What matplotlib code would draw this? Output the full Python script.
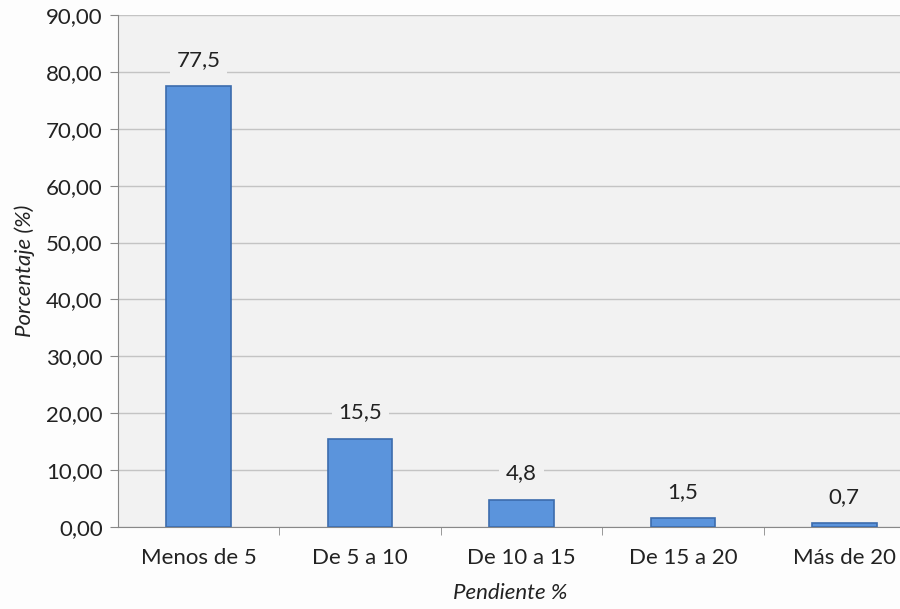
import matplotlib
matplotlib.use("Agg")
import matplotlib.pyplot as plt
from matplotlib.ticker import FuncFormatter

categories = ["Menos de 5", "De 5 a 10", "De 10 a 15", "De 15 a 20", "Más de 20"]
values = [77.5, 15.5, 4.8, 1.5, 0.7]
value_labels = ["77,5", "15,5", "4,8", "1,5", "0,7"]
yticks = [0, 10, 20, 30, 40, 50, 60, 70, 80, 90]

plt.rcParams['font.family'] = ['Lato', 'DejaVu Sans']
FS = 16

fig = plt.figure(figsize=(9, 6.09), dpi=100)
fig.patch.set_facecolor('#fdfdfd')
ax = fig.add_axes([118/900, 1 - 527/609, (925 - 118)/900, (527 - 15)/609])
ax.set_facecolor('#f2f2f2')

x = list(range(len(categories)))
bars = ax.bar(x, values, width=0.40, color='#5b94dc', edgecolor='#3c6cad', linewidth=1.2, zorder=3)

for xi, v, lab in zip(x, values, value_labels):
    ax.annotate(lab, (xi, v), xytext=(0, 19), textcoords='offset points',
                ha='center', va='center', fontsize=FS, color='#222222',
                bbox=dict(boxstyle='square,pad=0.3', fc='#f2f2f2', ec='none'), zorder=5)

ax.set_xlim(-0.5, len(categories) - 0.5)
ax.set_ylim(0, 90)
ax.set_yticks(yticks)
ax.yaxis.set_major_formatter(FuncFormatter(lambda v, p: f"{v:.2f}".replace('.', ',')))
ax.set_xticks(x)
ax.set_xticklabels(categories)
ax.set_xticks([i + 0.5 for i in x[:-1]], minor=True)
ax.tick_params(axis='x', which='major', length=0, pad=15, labelsize=FS, colors='#222222')
ax.tick_params(axis='x', which='minor', length=6, color='#888888')
ax.tick_params(axis='y', length=6, color='#888888', labelsize=FS, labelcolor='#222222', pad=5)

ax.grid(axis='y', color='#c4c4c4', linewidth=1.0, zorder=0)
for s in ['top', 'right']:
    ax.spines[s].set_visible(False)
ax.spines['left'].set_color('#888888')
ax.spines['bottom'].set_color('#888888')

ax.set_ylabel('Porcentaje (%)', fontsize=FS, style='italic', color='#222222', labelpad=8)
fig.text(510/900, 1 - 593/609, 'Pendiente %', ha='center', va='center', fontsize=FS,
         style='italic', color='#222222')

fig.savefig('out.png', dpi=100, facecolor=fig.get_facecolor())
